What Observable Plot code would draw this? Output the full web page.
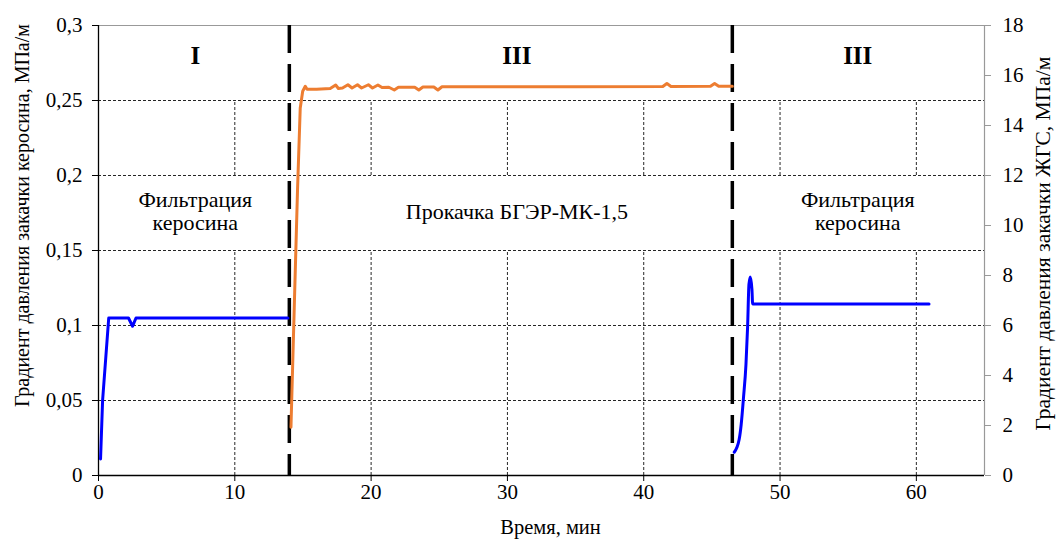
<!DOCTYPE html>
<html>
<head>
<meta charset="utf-8">
<script src="https://cdn.jsdelivr.net/npm/d3@7"></script>
<script src="https://cdn.jsdelivr.net/npm/@observablehq/plot@0.6"></script>
<style>
  html, body { margin: 0; padding: 0; background: #fff; }
</style>
</head>
<body>
<div id="chart"></div>
<script>
// ---- Data ----
// Kerosene injection, stage I (left axis, MPa/m)
const blue1Time = [0.15, 0.3, 0.75, 2.2, 2.5, 2.75, 13.9];
const blue1Val  = [0.011, 0.05, 0.105, 0.105, 0.0995, 0.105, 0.105];

// Kerosene injection, stage III (left axis, MPa/m)
const blue2Time = [46.64, 47.0, 47.15, 47.32, 47.5, 47.62, 47.72, 47.82, 47.94, 47.99, 60.93];
const blue2Val  = [0.0155, 0.024, 0.034, 0.052, 0.074, 0.099, 0.1275, 0.1324, 0.124, 0.1144, 0.1144];

// Gel pumping (right axis, MPa/m)
const orangeTime = [14.12, 14.36, 14.6, 14.8, 14.98, 15.17, 15.3, 15.5, 16.0, 17.0, 17.4, 17.6, 17.9, 18.3, 18.6, 19.0, 19.3, 19.8, 20.1, 20.5, 20.8, 21.3, 21.7, 22.0, 23.2, 23.5, 23.8, 24.6, 24.9, 25.2, 30.0, 35.0, 41.4, 41.7, 42.0, 44.9, 45.2, 45.5, 46.5];
const orangeVal  = [1.93, 6.7, 11.4, 14.7, 15.37, 15.57, 15.45, 15.45, 15.45, 15.48, 15.62, 15.48, 15.5, 15.63, 15.5, 15.63, 15.5, 15.63, 15.5, 15.62, 15.52, 15.53, 15.42, 15.53, 15.53, 15.42, 15.54, 15.54, 15.42, 15.55, 15.55, 15.55, 15.56, 15.68, 15.56, 15.57, 15.68, 15.57, 15.57];

// Stage boundaries (min)
const boundaries = [14, 46.5];

// Axis ticks
const xTicks = [0, 10, 20, 30, 40, 50, 60];
const yLeftTicks = [0, 0.05, 0.1, 0.15, 0.2, 0.25, 0.3];
const yRightTicks = [0, 2, 4, 6, 8, 10, 12, 14, 16, 18];

// Labels
const stageLabels = ["I", "III", "III"];
const stageNotes = ["Фильтрация\nкеросина", "Прокачка БГЭР-МК-1,5", "Фильтрация\nкеросина"];
const xLabel = "Время, мин";
const yLeftLabel = "Градиент давления закачки керосина, МПа/м";
const yRightLabel = "Градиент давления закачки ЖГС, МПа/м";

// ---- Build ----
const RIGHT_MAX = 18, LEFT_MAX = 0.3, X_MAX = 65;
const toLeft = v => v * LEFT_MAX / RIGHT_MAX;

const blue1 = blue1Time.map((t, i) => ({t, v: blue1Val[i]}));
const blue2 = blue2Time.map((t, i) => ({t, v: blue2Val[i]}));
const orange = orangeTime.map((t, i) => ({t, v: orangeVal[i]}));

const stageX = [7.1, 30.7, 55.7];
const stages = stageLabels.map((s, i) => ({x: stageX[i], s}));
const notes = stageNotes.map((s, i) => ({x: stageX[i], s}));

const gridX = xTicks.filter(d => d > 0);
const gridY = yLeftTicks.filter(d => d > 0 && d < LEFT_MAX);
const comma = d => String(d).replace(".", ",");

const chart = Plot.plot({
  width: 1061,
  height: 546,
  marginLeft: 98,
  marginRight: 77,
  marginTop: 25,
  marginBottom: 71,
  x: {domain: [0, X_MAX]},
  y: {domain: [0, LEFT_MAX]},
  style: {fontFamily: "'Liberation Serif', 'Times New Roman', serif", fontSize: "21px", color: "#000", background: "#fff"},
  marks: [
    // grid
    Plot.ruleY(gridY, {stroke: "#000", strokeWidth: 1, strokeDasharray: "3,2", strokeOpacity: 0.85}),
    Plot.ruleX(gridX, {y1: 0, y2: 0.15, stroke: "#000", strokeWidth: 1, strokeDasharray: "3,2", strokeOpacity: 0.85}),
    Plot.ruleX(gridX, {y1: 0.2, y2: 0.25, stroke: "#000", strokeWidth: 1, strokeDasharray: "3,2", strokeOpacity: 0.85}),
    // frame lines
    Plot.ruleY([LEFT_MAX], {stroke: "#999", strokeWidth: 1.2}),
    Plot.ruleX([X_MAX], {stroke: "#999", strokeWidth: 1.2}),
    // axes
    Plot.axisX({ticks: xTicks, tickSize: 6, tickPadding: 3, label: null, tickFormat: d => String(d), stroke: "#000", fontSize: 21}),
    Plot.axisY({anchor: "left", ticks: yLeftTicks, tickSize: 6, tickPadding: 10, label: null, tickFormat: comma, fontSize: 21}),
    // right axis: tick marks (gray) + labels
    Plot.axisY({anchor: "right", ticks: yRightTicks.map(toLeft), tickSize: 6, label: null, tickFormat: () => "", stroke: "#999"}),
    Plot.text(yRightTicks, {x: X_MAX, y: d => toLeft(d), text: d => String(d), textAnchor: "start", dx: 18, fontSize: 21}),
    Plot.ruleX([0], {stroke: "#000", strokeWidth: 1.3}),
    Plot.ruleY([0], {stroke: "#000", strokeWidth: 1.5}),
    // axis titles
    Plot.text([yLeftLabel], {frameAnchor: "left", textAnchor: "middle", rotate: -90, dx: -76, dy: -35, fontSize: 20}),
    Plot.text([yRightLabel], {frameAnchor: "right", textAnchor: "middle", rotate: -90, dx: 59, dy: -7, fontSize: 21.5}),
    Plot.text([xLabel], {frameAnchor: "bottom", textAnchor: "middle", dy: 58, dx: 9, fontSize: 20.5}),
    // stage boundaries
    Plot.ruleX(boundaries, {stroke: "#000", strokeWidth: 3.5, strokeDasharray: "28,11"}),
    // series
    Plot.line(blue1, {x: "t", y: "v", stroke: "#0000FF", strokeWidth: 3}),
    Plot.line(blue2, {x: "t", y: "v", stroke: "#0000FF", strokeWidth: 3, curve: "monotone-x"}),
    Plot.line(orange, {x: "t", y: d => toLeft(d.v), stroke: "#ED7D31", strokeWidth: 3}),
    // stage labels
    Plot.text(stages, {x: "x", y: 0.28, text: "s", fontWeight: "bold", fontSize: 25}),
    Plot.text(notes, {x: "x", y: 0.176, text: "s", fontSize: 22, lineHeight: 1.03})
  ]
});

document.getElementById("chart").appendChild(chart);
</script>
</body>
</html>
